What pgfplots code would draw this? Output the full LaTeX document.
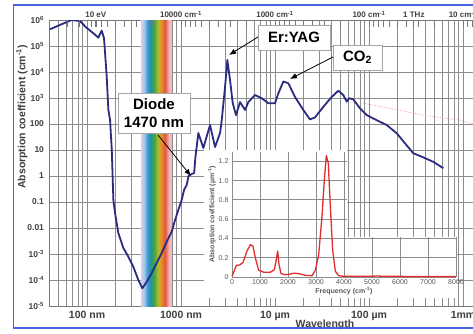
\documentclass[border=0pt]{standalone}
\usepackage{fontspec}
\setmainfont{Liberation Sans}
\usepackage{pgfplots}
\pgfplotsset{compat=1.18}
\usetikzlibrary{arrows.meta}
\definecolor{navy}{RGB}{43,43,128}
\definecolor{gridgray}{RGB}{140,140,140}
\definecolor{framegray}{RGB}{120,120,120}
\definecolor{frameblue}{RGB}{70,100,225}
\definecolor{insetred}{RGB}{225,45,45}
\definecolor{pinkline}{RGB}{240,160,160}
\definecolor{sp1}{RGB}{221,208,234}
\definecolor{sp2}{RGB}{156,200,234}
\definecolor{sp3}{RGB}{61,147,211}
\definecolor{sp4}{RGB}{32,150,140}
\definecolor{sp5}{RGB}{71,168,69}
\definecolor{sp6}{RGB}{184,184,50}
\definecolor{sp7}{RGB}{235,139,37}
\definecolor{sp8}{RGB}{222,90,58}
\definecolor{sp9}{RGB}{244,184,194}
\pgfdeclarehorizontalshading{spectrum}{100bp}{color(0bp)=(sp1); color(25bp)=(sp1); color(30bp)=(sp2); color(36bp)=(sp3); color(41bp)=(sp4); color(47bp)=(sp5); color(53bp)=(sp6); color(58bp)=(sp7); color(64bp)=(sp8); color(71bp)=(sp9); color(75bp)=(sp9); color(100bp)=(sp9)}
\begin{document}
\begin{tikzpicture}
\useasboundingbox (0pt,0pt) rectangle (473pt,333pt);
\fill[white] (0pt,0pt) rectangle (473pt,333pt);
% main axis
\begin{axis}[
  at={(49pt,27pt)}, anchor=south west, scale only axis,
  width=424pt, height=286pt,
  xmode=log, ymode=log,
  xmin=39.4, xmax=1.277e6, ymin=1e-5, ymax=1e6,
  axis line style={framegray, line width=0.9pt},
  xmajorgrids, xminorgrids, ymajorgrids,
  major grid style={gridgray, line width=0.9pt},
  minor grid style={gridgray, line width=0.8pt},
  major tick length=0pt, minor tick length=0pt,
  xtick={100,1000,10000,100000,1000000},
  xticklabels={100 nm,1000 nm,10 µm,100 µm,1mm},
  minor xtick={40,50,60,70,80,90,200,300,400,500,600,700,800,900,2000,3000,4000,5000,6000,7000,8000,9000,20000,30000,40000,50000,60000,70000,80000,90000,200000,300000,400000,500000,600000,700000,800000,900000},
  ytick={1e-5,1e-4,1e-3,1e-2,1e-1,1,10,100,1e3,1e4,1e5,1e6},
  yticklabels={10\textsuperscript{-5},10\textsuperscript{-4},10\textsuperscript{-3},0.01,0.1,1,10,100,10\textsuperscript{3},10\textsuperscript{4},10\textsuperscript{5},10\textsuperscript{6}},
  xticklabel style={font=\bfseries\fontsize{10.5}{12}\selectfont, text=black!75, yshift=-2pt},
  yticklabel style={font=\bfseries\fontsize{8.5}{10}\selectfont, text=black!75, xshift=-1.5pt},
  xtick pos=bottom, ytick pos=left,
]
\shade[shading=spectrum] (axis cs:375,1e-5) rectangle (axis cs:795,1e6);
\addplot[pinkline, line width=0.7pt, densely dotted] coordinates {(87300,630) (168000,400) (376000,220) (928000,140) (1270000,100)};
\addplot[navy, line width=1.8pt, line join=round] coordinates {
(40.4,4.4e5) (51.6,6.5e5) (68.8,1.0e6) (84.3,9.1e5) (97,5.3e5) (116.7,3.1e5) (131.9,2.1e5) (143.3,3.9e5) (151.6,2.0e5)
(162,6.6e3) (168.6,350) (175.9,140) (183.4,10) (190.6,0.12) (198.6,0.038) (215.2,6.4e-3) (243.3,1.7e-3) (274.9,7.9e-4)
(310.9,3.2e-4) (351.6,1.0e-4) (387.4,4.8e-5) (431.5,8.5e-5) (487.6,1.86e-4) (550.8,4.5e-4) (623.2,1.1e-3) (704.5,2.95e-3)
(796,7.2e-3) (862.7,0.02) (935.5,0.049) (1016,0.12) (1080,0.3) (1149,0.45) (1200,1.0) (1300,1.2) (1380,1.3) (1420,5)
(1528,45) (1727,12) (2035,91) (2301,13) (2601,45) (2712,142) (2938,2600) (3110,29000) (3321,4900) (3548,640) (3846,220)
(4244,700) (4797,345) (5201,700) (6124,1300) (7219,980) (8492,630) (10000,630) (10840,1500) (12250,4300) (13840,3700)
(16310,1100) (20000,345) (23550,150) (26650,180) (32670,460) (40090,1100) (47100,1900) (53300,1300) (57940,720)
(61700,980) (68060,890) (80170,400) (94560,220) (120800,140) (154300,91) (197200,44) (241600,18) (296000,7.5)
(378300,5.2) (483100,3.5) (617100,2.0)};
\end{axis}
% top scale
\begin{axis}[
  at={(49pt,27pt)}, anchor=south west, scale only axis,
  width=424pt, height=286pt,
  xmode=log, xmin=39.4, xmax=1.277e6, ymin=0, ymax=1,
  axis x line*=top, axis y line=none,
  x axis line style={draw=none},
  tick align=inside, major tick length=7pt,
  tick style={framegray, line width=0.8pt},
  minor x tick style={draw=none},
  xtick={124,1000,10000,100000,299800,1000000},
  xticklabels={10 eV,10000 cm\textsuperscript{-1},1000 cm\textsuperscript{-1},100 cm\textsuperscript{-1},1 THz,10 cm\textsuperscript{-1}},
  extra x ticks={61.99,82.65,111.1,125,142.9,166.7,200,250,333.3,500,1111.1,1250,1428.6,1666.7,2000,2500,3333.3,5000,11111,12500,14286,16667,20000,25000,33333,50000,111111,125000,142857,166667,200000,250000,333333,500000,1111111,1250000},
  extra x tick labels={},
  extra x tick style={major tick length=7pt},
  xticklabel style={font=\bfseries\fontsize{8}{9}\selectfont, text=black!75, yshift=-1.5pt},
]
\end{axis}
% inset background
\fill[white] (204pt,35pt) -- (204pt,183pt) -- (347pt,183pt) -- (347pt,96pt) -- (457pt,96pt) -- (457pt,35pt) -- cycle;
\begin{axis}[
  at={(232pt,56pt)}, anchor=south west, scale only axis,
  width=224pt, height=125.3pt,
  xmin=0, xmax=8000, ymin=0, ymax=1.3,
  axis line style={draw=none}, tick style={draw=none},
  xtick={0,1000,2000,3000,4000,5000,6000,7000,8000},
  xticklabels={0,1000,2000,3000,4000,5000,6000,7000,8000},
  ytick={0,0.2,0.4,0.6,0.8,1.0,1.2},
  yticklabels={0,0.2,0.4,0.6,0.8,1.0,1.2},
  ticklabel style={font=\fontsize{7}{8}\selectfont, text=black!65},
  xticklabel style={yshift=1pt},
  xlabel={\bfseries Frequency (cm\textsuperscript{-1})},
  ylabel={\bfseries Absorption coefficient (µm\textsuperscript{-1})},
  label style={font=\fontsize{7}{8}\selectfont, text=black!65},
  xlabel style={yshift=4pt},
  ylabel style={yshift=-4pt},
  clip=false,
]
\draw[gridgray, line width=1pt] (axis cs:0,0) -- (axis cs:8000,0);
\draw[gridgray, line width=1pt] (axis cs:0,0.2) -- (axis cs:8000,0.2);
\draw[gridgray, line width=1pt] (axis cs:0,0.4) -- (axis cs:8000,0.4);
\draw[gridgray, line width=1pt] (axis cs:0,0.6) -- (axis cs:4100,0.6);
\draw[gridgray, line width=1pt] (axis cs:0,0.8) -- (axis cs:4100,0.8);
\draw[gridgray, line width=1pt] (axis cs:0,1.0) -- (axis cs:4100,1.0);
\draw[gridgray, line width=1pt] (axis cs:0,1.2) -- (axis cs:4100,1.2);
\draw[gridgray, line width=1pt] (axis cs:0,0) -- (axis cs:0,1.3);
\draw[gridgray, line width=1pt] (axis cs:1000,0) -- (axis cs:1000,1.3);
\draw[gridgray, line width=1pt] (axis cs:2000,0) -- (axis cs:2000,1.3);
\draw[gridgray, line width=1pt] (axis cs:3000,0) -- (axis cs:3000,1.3);
\draw[gridgray, line width=1pt] (axis cs:4000,0) -- (axis cs:4000,1.3);
\draw[gridgray, line width=1pt] (axis cs:5000,0) -- (axis cs:5000,0.41);
\draw[gridgray, line width=1pt] (axis cs:6000,0) -- (axis cs:6000,0.41);
\draw[gridgray, line width=1pt] (axis cs:7000,0) -- (axis cs:7000,0.41);
\draw[gridgray, line width=1pt] (axis cs:8000,0) -- (axis cs:8000,0.41);
\addplot[insetred, line width=1.3pt, line join=round] coordinates {
(0,0.007) (60,0.05) (155,0.12) (274,0.125) (393,0.15) (536,0.27) (655,0.335) (750,0.32) (833,0.20) (952,0.07)
(1131,0.05) (1369,0.05) (1512,0.076) (1583,0.18) (1631,0.27) (1679,0.13) (1750,0.035) (1905,0.024) (2083,0.03)
(2202,0.04) (2381,0.035) (2619,0.017) (2857,0.014) (2976,0.07) (3095,0.23) (3214,0.63) (3298,1.01) (3369,1.26)
(3440,1.18) (3512,0.73) (3595,0.28) (3690,0.06) (3810,0.014) (3988,0.007) (4821,0.007) (5179,0.01) (5536,0.007) (8000,0.004)};
\end{axis}
% labels
\node[rotate=90, font=\bfseries\fontsize{10.5}{12}\selectfont, text=black!75] at (22pt,216pt) {Absorption coefficient (cm\textsuperscript{-1})};
\node[font=\bfseries\fontsize{10.5}{12}\selectfont, text=black!75] at (325pt,8pt) {Wavelength};
% annotations
\draw[-{Latex[length=7pt,width=5.5pt]}, line width=0.8pt] (258pt,296pt) -- (229pt,278pt);
\draw[-{Latex[length=7pt,width=5.5pt]}, line width=0.8pt] (333pt,276pt) -- (290pt,254pt);
\draw[-{Latex[length=7pt,width=5.5pt]}, line width=0.8pt] (158pt,198pt) -- (191pt,157pt);
\node[draw=gray!70, fill=white, line width=0.8pt, minimum width=72pt, minimum height=25pt, inner sep=0pt, font=\bfseries\fontsize{15}{18}\selectfont] at (294pt,295.5pt) {Er:YAG};
\node[draw=gray!70, fill=white, line width=0.8pt, minimum width=49pt, minimum height=25pt, inner sep=0pt, font=\bfseries\fontsize{15}{18}\selectfont] at (357.5pt,275.5pt) {CO\textsubscript{2}};
\node[draw=gray!70, fill=white, line width=0.8pt, minimum width=72pt, minimum height=40pt, inner sep=0pt, align=center, font=\bfseries\fontsize{15}{18}\selectfont] at (154pt,220pt) {Diode\\1470 nm};
% outer frame
\draw[frameblue, line width=1.3pt] (490pt,5pt) -- (13.5pt,5pt) -- (13.5pt,328pt) -- (490pt,328pt);
\end{tikzpicture}
\end{document}
